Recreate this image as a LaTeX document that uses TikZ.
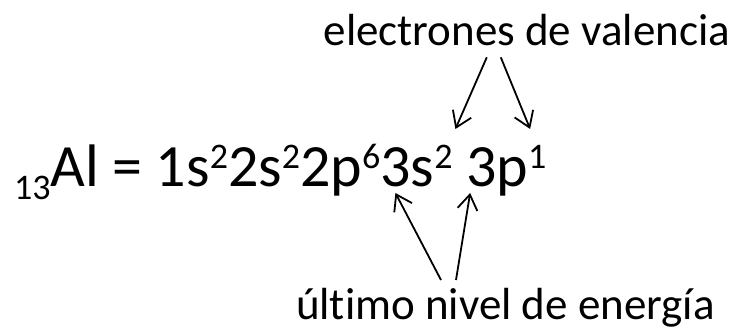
\documentclass[tikz,border=0pt]{standalone}
\usepackage{fontspec}
\setmainfont{Carlito}[Ligatures=NoCommon]
\usetikzlibrary{arrows.meta,calc}
\newcommand\mysup[1]{\raisebox{18pt}{\fontsize{36}{38}\selectfont #1}}
\newcommand\mysub[1]{\raisebox{-13pt}{\fontsize{36}{38}\selectfont #1}}
\begin{document}
\begin{tikzpicture}[x=1pt,y=1pt,
  lbl/.style={inner sep=0pt,outer sep=0pt,font=\fontsize{45}{50}\selectfont},
  frm/.style={inner sep=0pt,outer sep=0pt,font=\fontsize{60}{64}\selectfont},
  arr/.style={line width=1.8pt,-{Straight Barb[length=15pt,width=20pt,line width=1.8pt]}}]
\useasboundingbox (0,0) rectangle (732,-331);
\node[lbl,anchor=base east] (ev) at (730,-46) {electrones de valencia};
\node[frm,anchor=base west] (pre) at (14,-187) {\mysub{13}Al = 1s\mysup{2}2s\mysup{2}2p\mysup{6}};
\node[frm,anchor=base west] (s3) at (pre.base east) {3s\mysup{2}};
\node[frm,anchor=base west] (p3) at ([xshift=13.6pt]s3.base east) {3p\mysup{1}};
\node[lbl,anchor=base west] (ul) at (296,-320) {último nivel de energía};
\draw[arr] ($(ev.south)+(-40,-11)$) -- ($(s3.base west)+(75,58)$);
\draw[arr] ($(ev.south)+(-26,-11)$) -- ($(p3.base west)+(64,58)$);
\draw[arr] ($(ul.base west)+(145,40)$) -- ($(s3.base west)+(15,-6)$);
\draw[arr] ($(ul.base west)+(160,40)$) -- ($(p3.base west)+(4,-6)$);
\end{tikzpicture}
\end{document}
